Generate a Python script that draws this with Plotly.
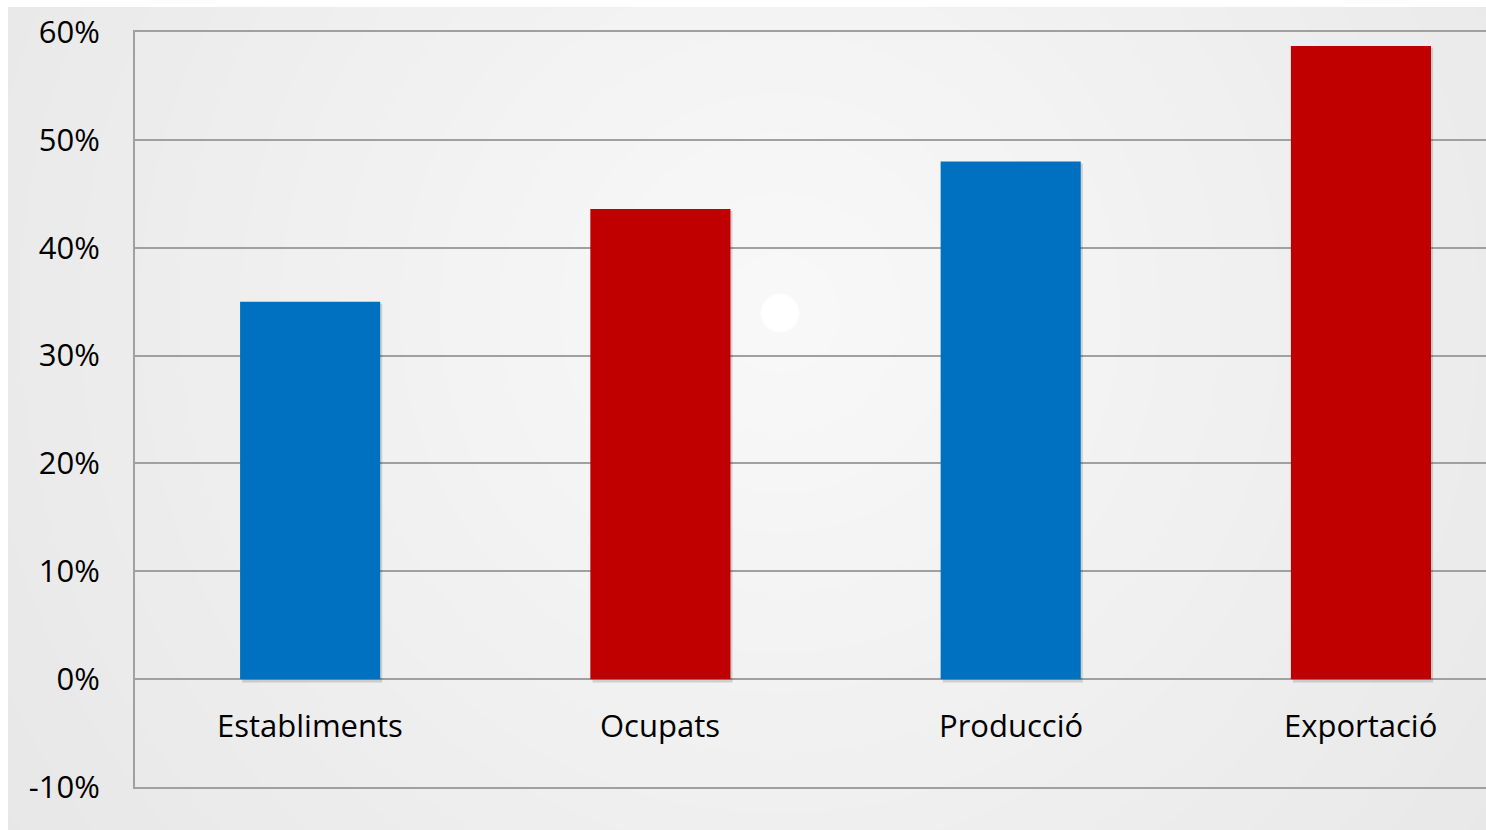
import plotly.graph_objects as go

categories = ["Establiments", "Ocupats", "Producció", "Exportació"]
values = [35.0, 43.6, 48.0, 58.7]
bar_colors = ["#0070C0", "#C00000", "#0070C0", "#C00000"]
tick_values = [-10, 0, 10, 20, 30, 40, 50, 60]
tick_labels = ["-10%", "0%", "10%", "20%", "30%", "40%", "50%", "60%"]

W, H = 1486, 830
ML, MR, MT, MB = 135, 0, 32, 43
PW, PH = W - ML - MR, H - MT - MB

fig = go.Figure()
# soft shadow under each bar
fig.add_trace(go.Bar(
    x=categories, y=[v + 0.1 for v in values], base=-0.3, width=0.4,
    offset=-0.194,
    marker=dict(color="rgba(0,0,0,0.14)", line=dict(width=0)),
    hoverinfo="skip",
))
fig.add_trace(go.Bar(
    x=categories, y=values, width=0.4, offset=-0.2,
    marker=dict(color=bar_colors, line=dict(width=0)),
    hoverinfo="skip",
))

# radial gradient background (concentric circles)
cx, cy = 780, 313
ax_ = (cx - ML) / PW
ay_ = (H - MB - cy) / PH
shapes = []
r = 1000
while r > 0:
    c = int(round(max(229, 249 - r * 0.019)))
    col = f"rgb({c},{c},{c})"
    shapes.append(dict(type="circle", xref="paper", yref="paper",
                       xsizemode="pixel", ysizemode="pixel",
                       xanchor=ax_, yanchor=ay_,
                       x0=-r, x1=r, y0=-r, y1=r,
                       fillcolor=col, line=dict(width=0), layer="below"))
    r -= 20
shapes.append(dict(type="circle", xref="paper", yref="paper",
                   xsizemode="pixel", ysizemode="pixel",
                   xanchor=ax_, yanchor=ay_, x0=-19, x1=19, y0=-19, y1=19,
                   fillcolor="rgb(255,255,255)", line=dict(width=0), layer="below"))
# white border strips on top and left
shapes.append(dict(type="rect", xref="paper", yref="paper",
                   xsizemode="pixel", ysizemode="pixel", xanchor=0, yanchor=1,
                   x0=-ML - 10, x1=PW + 10, y0=MT - 7, y1=MT + 10,
                   fillcolor="white", line=dict(width=0), layer="below"))
shapes.append(dict(type="rect", xref="paper", yref="paper",
                   xsizemode="pixel", ysizemode="pixel", xanchor=0, yanchor=0,
                   x0=-ML - 10, x1=-ML + 8, y0=-MB - 10, y1=PH + MT + 10,
                   fillcolor="white", line=dict(width=0), layer="below"))

annotations = [dict(x=c, y=0, xref="x", yref="y", text=c, showarrow=False,
                    yshift=-46, yanchor="middle",
                    font=dict(family="Open Sans", size=31, color="#000000"))
               for c in categories]

fig.update_layout(
    width=W, height=H,
    margin=dict(l=ML, r=MR, t=MT, b=MB, pad=0),
    paper_bgcolor="#e6e6e6", plot_bgcolor="rgba(0,0,0,0)",
    showlegend=False, shapes=shapes, annotations=annotations,
    barmode="overlay",
    xaxis=dict(range=[-0.5, 3.357], showticklabels=False, showgrid=False,
               zeroline=False, showline=True, linecolor="#a0a0a0", linewidth=2,
               mirror=True, ticks=""),
    yaxis=dict(range=[-10, 60], tickvals=tick_values, ticktext=tick_labels,
               showgrid=True, gridcolor="#a0a0a0", gridwidth=1.5,
               zeroline=True, zerolinecolor="#a0a0a0", zerolinewidth=1.5,
               showline=True, linecolor="#a0a0a0", linewidth=2,
               ticks="", ticklabelstandoff=27,
               tickfont=dict(family="Open Sans", size=31, color="#000000")),
)

fig.write_html(
    "out.html",
    config={"displayModeBar": False},
    post_script="document.body.style.margin='0';document.body.style.overflow='hidden';",
)
